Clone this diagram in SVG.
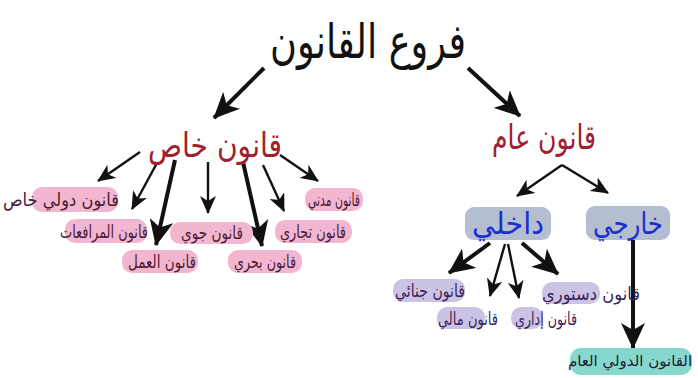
<svg xmlns="http://www.w3.org/2000/svg" width="698" height="378" viewBox="0 0 698 378">
<defs>
<marker id="ah" markerUnits="userSpaceOnUse" markerWidth="18" markerHeight="16" viewBox="0 0 18 16" refX="17" refY="8" orient="auto">
<path d="M0,0 L18,8 L0,16 L5,8 z" fill="#111"/>
</marker>
<marker id="ahb" markerUnits="userSpaceOnUse" markerWidth="26" markerHeight="24" viewBox="0 0 26 24" refX="25" refY="12" orient="auto">
<path d="M0,0 L26,12 L0,24 L7,12 z" fill="#111"/>
</marker>
</defs>
<style>
text{font-family:"DejaVu Sans","Noto Sans",sans-serif;}
.title{font-size:48px;fill:#111;}
.red{font-size:34px;fill:#a0202f;}
.blue{font-size:30px;fill:#1a2fcf;}
.pl{font-size:18px;fill:#4a1a35;}
.vl{font-size:18px;fill:#3a1f5a;}
.tl{font-size:15px;fill:#1a2030;}
.pink{fill:#f2b6d0;}
.lav{fill:#cbc3e4;}
.teal{fill:#86d8cf;}
.box{fill:#b3bed0;}
.thin{stroke:#111;stroke-width:2.4;fill:none;marker-end:url(#ah);}
.thick{stroke:#111;stroke-width:4;fill:none;marker-end:url(#ahb);}
</style>
<rect width="698" height="378" fill="#fff"/>
<g id="connectors">
<line class="thick" x1="264" y1="68" x2="214" y2="118"/>
<line class="thick" x1="468" y1="68" x2="520" y2="116"/>
<line class="thin" x1="140" y1="152" x2="98" y2="181"/>
<line class="thin" x1="157" y1="163" x2="132" y2="209"/>
<line class="thick" x1="175" y1="160" x2="156" y2="245"/>
<line class="thin" x1="208" y1="162" x2="208" y2="213"/>
<line class="thick" x1="243" y1="162" x2="262" y2="246"/>
<line class="thin" x1="263" y1="165" x2="284" y2="211"/>
<line class="thin" x1="280" y1="155" x2="318" y2="181"/>
<line class="thin" x1="562" y1="165" x2="517" y2="196"/>
<line class="thin" x1="562" y1="165" x2="608" y2="193"/>
<line class="thick" x1="490" y1="243" x2="449" y2="273"/>
<line class="thin" x1="505" y1="244" x2="490" y2="296"/>
<line class="thin" x1="508" y1="244" x2="519" y2="298"/>
<line class="thick" x1="522" y1="243" x2="558" y2="274"/>
<line class="thick" x1="633" y1="240" x2="633" y2="348"/>
</g>
<g id="title"><text class="title" x="368" y="58" text-anchor="middle" direction="rtl" textLength="196" lengthAdjust="spacingAndGlyphs">فروع القانون</text></g>
<g id="private"><text class="red" x="215" y="157" text-anchor="middle" direction="rtl" textLength="134" lengthAdjust="spacingAndGlyphs">قانون خاص</text></g>
<g id="public"><text class="red" x="544" y="149" text-anchor="middle" direction="rtl" textLength="104" lengthAdjust="spacingAndGlyphs">قانون عام</text></g>
<g id="internal"><rect class="box" x="465" y="207" width="86" height="33" rx="9"/><text class="blue" x="508" y="234" text-anchor="middle" direction="rtl" textLength="72" lengthAdjust="spacingAndGlyphs">داخلي</text></g>
<g id="external"><rect class="box" x="586" y="206" width="84" height="34" rx="9"/><text class="blue" x="628" y="234" text-anchor="middle" direction="rtl" textLength="70" lengthAdjust="spacingAndGlyphs">خارجي</text></g>
<g id="civil"><rect class="pink" x="305" y="188" width="58" height="23" rx="10"/><text class="pl" x="334" y="206" text-anchor="middle" direction="rtl" textLength="52" lengthAdjust="spacingAndGlyphs">قانون مدني</text></g>
<g id="commercial"><rect class="pink" x="275" y="220" width="77" height="23" rx="10"/><text class="pl" x="313" y="238" text-anchor="middle" direction="rtl" textLength="66" lengthAdjust="spacingAndGlyphs">قانون تجاري</text></g>
<g id="maritime"><rect class="pink" x="228" y="250" width="74" height="23" rx="10"/><text class="pl" x="265" y="268" text-anchor="middle" direction="rtl" textLength="62" lengthAdjust="spacingAndGlyphs">قانون بحري</text></g>
<g id="air"><rect class="pink" x="170" y="222" width="83" height="22" rx="10"/><text class="pl" x="212" y="239" text-anchor="middle" direction="rtl" textLength="62" lengthAdjust="spacingAndGlyphs">قانون جوي</text></g>
<g id="labor"><rect class="pink" x="122" y="250" width="76" height="23" rx="10"/><text class="pl" x="162" y="268" text-anchor="middle" direction="rtl" textLength="68" lengthAdjust="spacingAndGlyphs">قانون العمل</text></g>
<g id="procedure"><rect class="pink" x="65" y="219" width="82" height="24" rx="10"/><text class="pl" x="104" y="238" text-anchor="middle" direction="rtl" textLength="88" lengthAdjust="spacingAndGlyphs">قانون المرافعات</text></g>
<g id="privintl"><rect class="pink" x="32" y="187" width="86" height="25" rx="10"/><text class="pl" x="61" y="206" text-anchor="middle" direction="rtl" textLength="116" lengthAdjust="spacingAndGlyphs">قانون دولي خاص</text></g>
<g id="criminal"><rect class="lav" x="393" y="279" width="72" height="23" rx="10"/><text class="vl" x="430" y="297" text-anchor="middle" direction="rtl" textLength="70" lengthAdjust="spacingAndGlyphs">قانون جنائي</text></g>
<g id="financial"><rect class="lav" x="437" y="307" width="48" height="22" rx="10"/><text class="vl" x="468" y="325" text-anchor="middle" direction="rtl" textLength="60" lengthAdjust="spacingAndGlyphs">قانون مالي</text></g>
<g id="admin"><rect class="lav" x="511" y="307" width="32" height="22" rx="10"/><text class="vl" x="546" y="325" text-anchor="middle" direction="rtl" textLength="62" lengthAdjust="spacingAndGlyphs">قانون إداري</text></g>
<g id="constitutional"><rect class="lav" x="542" y="282" width="58" height="22" rx="10"/><text class="vl" x="591" y="300" text-anchor="middle" direction="rtl" textLength="98" lengthAdjust="spacingAndGlyphs">قانون دستوري</text></g>
<g id="pubintl"><rect class="teal" x="570" y="348" width="122" height="27" rx="11"/><text class="tl" x="630" y="366" text-anchor="middle" direction="rtl">القانون الدولي العام</text></g>
</svg>
